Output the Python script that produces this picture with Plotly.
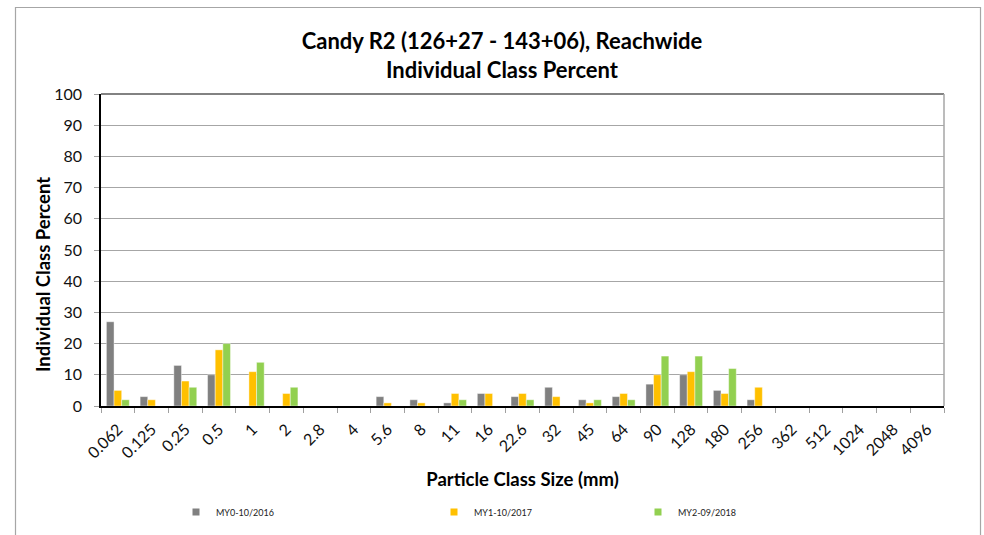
import plotly.graph_objects as go

categories = ["0.062", "0.125", "0.25", "0.5", "1", "2", "2.8", "4", "5.6", "8", "11", "16",
              "22.6", "32", "45", "64", "90", "128", "180", "256", "362", "512", "1024", "2048", "4096"]
my0 = [27, 3, 13, 10, 0, 0, 0, 0, 3, 2, 1, 4, 3, 6, 2, 3, 7, 10, 5, 2, 0, 0, 0, 0, 0]
my1 = [5, 2, 8, 18, 11, 4, 0, 0, 1, 1, 4, 4, 4, 3, 1, 4, 10, 11, 4, 6, 0, 0, 0, 0, 0]
my2 = [2, 0, 6, 20, 14, 6, 0, 0, 0, 0, 2, 0, 2, 0, 2, 2, 16, 16, 12, 0, 0, 0, 0, 0, 0]
series_names = ["MY0-10/2016", "MY1-10/2017", "MY2-09/2018"]
colors = ["#808080", "#FFC000", "#92D050"]

FONT = "Lato, 'Open Sans', sans-serif"

fig = go.Figure()
legends = ["legend", "legend2", "legend3"]
for name, vals, col, lg in zip(series_names, [my0, my1, my2], colors, legends):
    fig.add_trace(go.Bar(x=categories, y=vals, name=name, marker_color=col,
                         marker_line=dict(width=0.6, color="rgba(255,255,255,0.7)"),
                         showlegend=False))
    # legend entry with a small square swatch
    fig.add_trace(go.Scatter(x=[None], y=[None], mode="markers", name=name,
                             marker=dict(symbol="square", size=7, color=col),
                             legend=lg, showlegend=True))

L, R, T, B = 101, 944, 94, 406
W, H = R - L, B - T

def px_x(p):
    return (p - L) / W

def px_y(p):
    return (B - p) / H

leg_common = dict(orientation="h", yanchor="middle", xanchor="left",
                  font=dict(family=FONT, size=9, color="#222222"),
                  bgcolor="rgba(0,0,0,0)", itemwidth=30, tracegroupgap=0,
                  borderwidth=0)

text_starts = [216, 474, 678]

fig.update_layout(
    width=984, height=535,
    margin=dict(l=L, r=984 - R, t=T, b=535 - B, autoexpand=False),
    paper_bgcolor="white", plot_bgcolor="white",
    showlegend=True,
    barmode="group", bargap=0.32, bargroupgap=0,
    font=dict(family=FONT, color="#111111"),
    title=dict(text="<b>Candy R2 (126+27 - 143+06), Reachwide<br>Individual Class Percent</b>",
               x=502 / 984, xanchor="center", y=1 - 49 / 535, yanchor="top",
               font=dict(family=FONT, size=22, color="#000000")),
    legend=dict(x=px_x(text_starts[0] - 40), y=px_y(512), **leg_common),
    legend2=dict(x=px_x(text_starts[1] - 40), y=px_y(512), **leg_common),
    legend3=dict(x=px_x(text_starts[2] - 40), y=px_y(512), **leg_common),
    xaxis=dict(type="category", tickangle=-45, tickson="boundaries",
               ticks="outside", ticklen=5, tickcolor="#a0a0a0",
               showline=True, linecolor="#000000", linewidth=1.5,
               showgrid=False, automargin=False, ticklabelstandoff=6,
               tickfont=dict(family=FONT, size=16, color="#111111"),
               title=dict(text="<b>Particle Class Size (mm)</b>", standoff=12,
                          font=dict(family=FONT, size=18.5, color="#000000"))),
    yaxis=dict(range=[0, 100], dtick=10, ticks="outside", ticklen=5,
               tickcolor="#a0a0a0",
               showline=True, linecolor="#000000", linewidth=1.5,
               showgrid=True, gridcolor="#a6a6a6", gridwidth=1,
               zeroline=False, automargin=False, ticklabelstandoff=9,
               tickfont=dict(family=FONT, size=16, color="#111111")),
    annotations=[
        dict(text="<b>Individual Class Percent</b>", textangle=-90,
             xref="paper", yref="paper", x=px_x(43), y=px_y(275),
             xanchor="center", yanchor="middle", showarrow=False,
             font=dict(family=FONT, size=18.5, color="#000000")),
    ],
    shapes=[
        dict(type="line", xref="paper", yref="paper", x0=0, x1=1, y0=1, y1=1,
             line=dict(color="#595959", width=1.5)),
        dict(type="line", xref="paper", yref="paper", x0=1, x1=1, y0=0, y1=1,
             line=dict(color="#a6a6a6", width=1.5)),
        dict(type="rect", xref="paper", yref="paper",
             x0=px_x(15.5), x1=px_x(980.5), y0=px_y(545), y1=px_y(7.5),
             line=dict(color="#a6a6a6", width=1.2), layer="below"),
    ],
)

fig.write_html("out.html", config={"displayModeBar": False},
               post_script="document.body.style.margin='0';")
